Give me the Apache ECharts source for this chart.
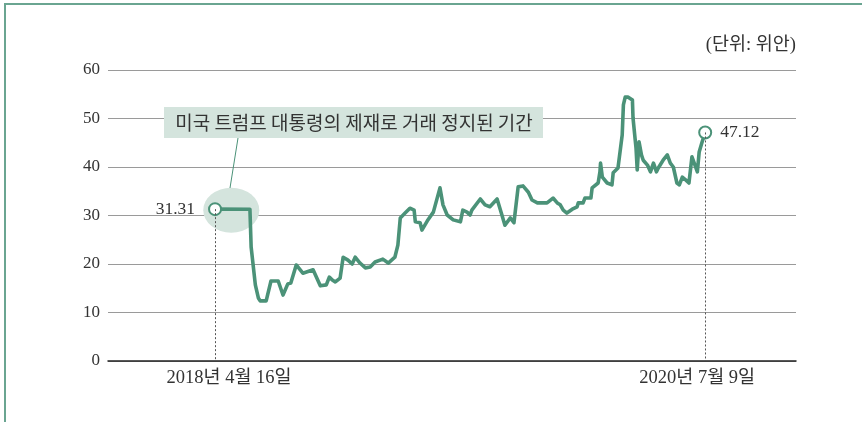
<!DOCTYPE html>
<html>
<head>
<meta charset="utf-8">
<script src="https://cdn.jsdelivr.net/npm/echarts@6/dist/echarts.min.js"></script>
<style>
  body { margin: 0; background: #fff; }
  .frame {
    position: absolute; left: 4px; top: 3px; right: 0; bottom: 0;
    border-left: 2px solid #6aa591; border-top: 2px solid #6aa591;
  }
  #myChart { position: absolute; left: 0; top: 0; width: 862px; height: 422px; }
</style>
</head>
<body>
<div class="frame"></div>
<div id="myChart"></div>
<script>
  // days since 2018-04-16
  var days = [0, 58, 60, 67, 72, 75, 85, 93, 105, 113, 121, 126, 135, 146, 163, 175, 185, 190, 195, 200,
    208, 213, 221, 228, 233, 241, 250, 258, 266, 279, 288, 299, 304, 308, 316, 324, 331, 333, 341, 344,
    353, 363, 374, 379, 386, 396, 408, 412, 419, 424, 427, 441, 449, 457, 469, 477, 482, 491, 497, 504,
    512, 521, 527, 536, 552, 562, 569, 574, 579, 585, 594, 602, 604, 612, 615, 625, 627, 637, 640, 641,
    644, 652, 660, 662, 670, 677, 679, 682, 687, 694, 695, 700, 702, 705, 709, 712, 719, 724, 729, 734,
    737, 745, 752, 757, 762, 768, 772, 777, 783, 788, 793, 798, 802, 805, 810, 815];
  // 위안
  var prices = [31.31, 31.3, 23.5, 15.7, 13.0, 12.4, 12.4, 16.5, 16.5, 13.6, 15.9, 16.1, 19.8, 18.1, 18.8, 15.5, 15.7, 17.3, 16.7, 16.3,
    17.1, 21.4, 20.8, 20.0, 21.4, 20.2, 19.2, 19.4, 20.4, 21.0, 20.2, 21.4, 23.9, 29.5, 30.5, 31.5, 31.1, 28.7, 28.5, 27.0,
    28.9, 30.7, 35.7, 32.2, 30.1, 29.1, 28.7, 31.1, 30.7, 30.1, 31.1, 33.4, 32.2, 31.8, 33.4, 30.1, 28.0, 29.5, 28.5, 35.9,
    36.1, 34.8, 33.2, 32.6, 32.6, 33.6, 32.6, 32.2, 31.1, 30.5, 31.3, 31.8, 32.6, 32.6, 33.6, 33.6, 35.7, 36.7, 39.0, 40.8,
    37.9, 36.7, 36.3, 38.8, 39.8, 46.6, 52.8, 54.4, 54.4, 53.8, 50.1, 43.9, 39.4, 45.2, 42.5, 41.4, 40.4, 39.0, 40.8, 39.0,
    39.8, 41.4, 42.5, 40.8, 40.0, 36.7, 36.3, 37.9, 37.3, 36.7, 42.1, 40.4, 39.0, 43.1, 45.2, 47.12];
  var tickDays = [0, 815];
  var tickLabels = ['2018년 4월 16일', '2020년 7월 9일'];
  var yTicks = [0, 10, 20, 30, 40, 50, 60];
  var haltNote = '미국 트럼프 대통령의 제재로 거래 정지된 기간';
  var haltMark = [27, 31.1];

  var green = '#4b9278';
  var font = "'Liberation Serif', 'Noto Sans CJK KR', serif";
  var data = days.map(function (d, i) { return [d, prices[i]]; });
  var first = data[0], last = data[data.length - 1];

  var myChart = echarts.init(document.getElementById('myChart'));
  myChart.setOption({
    animation: false,
    grid: { left: 108, right: 66, top: 70, bottom: 61 },
    xAxis: {
      type: 'value',
      min: -178,
      max: 966,
      splitLine: { show: false },
      axisLine: { lineStyle: { color: '#222', width: 1.5 } },
      axisTick: { show: false },
      axisLabel: {
        customValues: tickDays,
        margin: 8,
        formatter: function (v) {
          var i = tickDays.indexOf(v);
          return i === 0 ? '{l|' + tickLabels[0] + '}' : '{r|' + tickLabels[1] + '}';
        },
        rich: {
          l: { fontFamily: font, fontSize: 18.5, color: '#333', padding: [0, 0, 0, 28] },
          r: { fontFamily: font, fontSize: 18.5, color: '#333', padding: [0, 16, 0, 0] }
        }
      }
    },
    yAxis: {
      type: 'value',
      min: yTicks[0],
      max: yTicks[yTicks.length - 1],
      interval: 10,
      axisLine: { show: false },
      axisTick: { show: false },
      axisLabel: { margin: 8, fontFamily: font, fontSize: 17, color: '#333' },
      splitLine: { lineStyle: { color: '#9a9a9a', width: 1.2 } }
    },
    graphic: [
      { type: 'text', right: 66, top: 36, style: { text: '(단위: 위안)', font: '18.5px ' + font, fill: '#333' } },
      { type: 'line', shape: { x1: 238, y1: 138, x2: 230, y2: 188 }, style: { stroke: green, lineWidth: 1 }, z: 5 },
      { type: 'rect', shape: { x: 164, y: 107, width: 379, height: 31 }, style: { fill: '#d4e4dd' }, z: 5 },
      { type: 'text', x: 354, y: 123, style: { text: haltNote, align: 'center', verticalAlign: 'middle',
        font: "19px 'Noto Sans CJK KR'", fill: '#333' }, z: 6 }
    ],
    series: [
      {
        type: 'scatter',
        silent: true,
        z: 1,
        symbol: 'circle',
        symbolSize: [56, 45],
        itemStyle: { color: '#d4e4dd', opacity: 1 },
        data: [haltMark]
      },
      {
        type: 'line',
        z: 3,
        silent: true,
        symbol: 'none',
        lineStyle: { color: green, width: 3.6, join: 'round' },
        data: data,
        markLine: {
          silent: true,
          symbol: 'none',
          label: { show: false },
          lineStyle: { color: '#555', type: [2, 2], width: 1 },
          data: [
            [{ coord: [first[0], first[1]] }, { coord: [first[0], 0] }],
            [{ coord: [last[0], last[1]] }, { coord: [last[0], 0] }]
          ]
        }
      },
      {
        type: 'scatter',
        z: 4,
        silent: true,
        symbol: 'circle',
        symbolSize: 12,
        itemStyle: { color: '#fff', borderColor: green, borderWidth: 2, opacity: 1 },
        label: { show: true, fontFamily: font, fontSize: 17.5, color: '#333' },
        data: [
          { value: first, label: { position: 'left', distance: 13, formatter: String(first[1]) } },
          { value: last, label: { position: 'right', distance: 8, formatter: String(last[1]) } }
        ]
      }
    ]
  });
</script>
</body>
</html>
